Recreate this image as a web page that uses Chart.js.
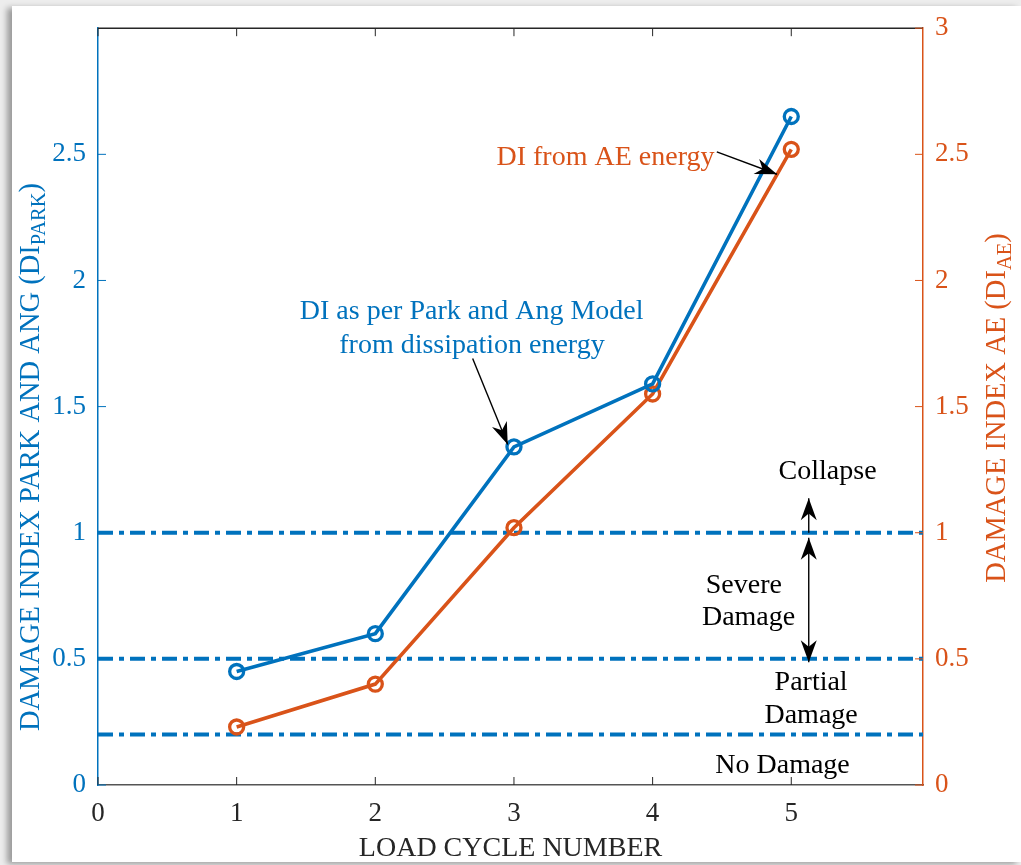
<!DOCTYPE html>
<html>
<head>
<meta charset="utf-8">
<script src="https://cdn.jsdelivr.net/npm/chart.js@4.4.1/dist/chart.umd.min.js"></script>
<style>
  html, body { margin: 0; padding: 0; width: 1021px; height: 865px; overflow: hidden; background: #ededed; }
  #card { position: absolute; left: 12px; top: 6px; width: 1009px; height: 856px; background: #ffffff;
          box-shadow: -5px 2px 6px rgba(0, 0, 0, 0.35); }
  #wrap { position: absolute; left: 0; top: 0; width: 1021px; height: 865px; }
</style>
</head>
<body>
<div id="card"></div>
<div id="wrap"><canvas id="chart" width="1021" height="865"></canvas></div>
<script>
// Load cycles and the two damage indices
const cycles = [1, 2, 3, 4, 5];
const diPark = [0.45, 0.60, 1.34, 1.59, 2.65];
const diAE = [0.23, 0.40, 1.02, 1.55, 2.52];

// Damage state limits (dash-dot lines)
const limitLevels = [1, 0.5, 0.2];

// Axis ranges and tick labels
const xRange = [0, 5.95];
const yRange = [0, 3];
const xTicks = [0, 1, 2, 3, 4, 5];
const leftTicks = [0, 0.5, 1, 1.5, 2, 2.5];
const rightTicks = [0, 0.5, 1, 1.5, 2, 2.5, 3];

const BLUE = '#0072BD';
const ORANGE = '#D95319';
const INK = '#262626';
const SERIF = "'Liberation Serif', 'Times New Roman', serif";

// Text notes in data units (x, y on the 0-3 scale), baseline anchored
const notes = [
  { text: 'DI from AE energy', x: 3.66, y: 2.457, color: ORANGE },
  { text: 'DI as per Park and Ang Model', x: 2.695, y: 1.849, color: BLUE },
  { text: 'from dissipation energy', x: 2.697, y: 1.711, color: BLUE },
  { text: 'Collapse', x: 5.262, y: 1.212, color: '#000' },
  { text: 'Severe', x: 4.658, y: 0.763, color: '#000' },
  { text: 'Damage', x: 4.692, y: 0.636, color: '#000' },
  { text: 'Partial', x: 5.143, y: 0.375, color: '#000' },
  { text: 'Damage', x: 5.143, y: 0.245, color: '#000' },
  { text: 'No Damage', x: 4.937, y: 0.047, color: '#000' }
];

// Pointer arrows in data units
const arrows = [
  { from: [4.463, 2.510], to: [4.897, 2.421], both: false },
  { from: [2.702, 1.691], to: [2.955, 1.350], both: false },
  { from: [5.126, 1.0], to: [5.126, 1.137], both: false },
  { from: [5.126, 0.98], to: [5.126, 0.487], both: true }
];

const toPoints = (xs, ys) => xs.map((x, i) => ({ x: x, y: ys[i] }));

const datasets = [
  {
    label: 'DI Park and Ang',
    data: toPoints(cycles, diPark),
    yAxisID: 'yL',
    borderColor: BLUE,
    borderWidth: 3.6,
    pointRadius: 7,
    pointBorderWidth: 3.3,
    pointBackgroundColor: 'rgba(0,0,0,0)',
    pointBorderColor: BLUE,
    tension: 0
  },
  {
    label: 'DI AE',
    data: toPoints(cycles, diAE),
    yAxisID: 'yR',
    borderColor: ORANGE,
    borderWidth: 3.6,
    pointRadius: 7,
    pointBorderWidth: 3.3,
    pointBackgroundColor: 'rgba(0,0,0,0)',
    pointBorderColor: ORANGE,
    tension: 0
  }
].concat(limitLevels.map(level => ({
  label: 'limit ' + level,
  data: [{ x: xRange[0], y: level }, { x: xRange[1], y: level }],
  yAxisID: 'yL',
  borderColor: BLUE,
  borderWidth: 4,
  borderDash: [15, 6, 5, 6],
  pointRadius: 0,
  tension: 0
})));

function drawArrowHead(ctx, x, y, angle) {
  const L = 22, W = 16;
  ctx.save();
  ctx.translate(x, y);
  ctx.rotate(angle);
  ctx.beginPath();
  ctx.moveTo(0, 0);
  ctx.lineTo(-L, -W / 2);
  ctx.lineTo(-0.7 * L, 0);
  ctx.lineTo(-L, W / 2);
  ctx.closePath();
  ctx.fill();
  ctx.restore();
}

function drawTitle(ctx, cx, cy, parts, color) {
  ctx.save();
  ctx.translate(cx, cy);
  ctx.rotate(-Math.PI / 2);
  ctx.fillStyle = color;
  ctx.textBaseline = 'middle';
  ctx.textAlign = 'left';
  const fonts = parts.map(p => (p.sub ? '20.5px ' : '28.5px ') + SERIF);
  const widths = parts.map((p, i) => { ctx.font = fonts[i]; return ctx.measureText(p.text).width; });
  let x = -widths.reduce((a, b) => a + b, 0) / 2;
  parts.forEach((p, i) => {
    ctx.font = fonts[i];
    ctx.fillText(p.text, x, p.sub ? 8 : 0);
    x += widths[i];
  });
  ctx.restore();
}

const decorations = {
  id: 'decorations',
  afterDatasetsDraw(chart) {
    const { ctx, chartArea: a, scales } = chart;
    const sx = scales.x, sy = scales.yL, sr = scales.yR;
    ctx.save();

    // frame top edge
    ctx.strokeStyle = INK;
    ctx.lineWidth = 1.5;
    ctx.beginPath();
    ctx.moveTo(a.left, a.top);
    ctx.lineTo(a.right, a.top);
    ctx.stroke();

    // inward tick marks
    ctx.lineWidth = 1;
    ctx.strokeStyle = INK;
    xTicks.forEach(v => {
      const px = sx.getPixelForValue(v);
      ctx.beginPath();
      ctx.moveTo(px, a.bottom); ctx.lineTo(px, a.bottom - 8);
      ctx.moveTo(px, a.top); ctx.lineTo(px, a.top + 8);
      ctx.stroke();
    });
    ctx.strokeStyle = BLUE;
    leftTicks.forEach(v => {
      const py = sy.getPixelForValue(v);
      ctx.beginPath(); ctx.moveTo(a.left, py); ctx.lineTo(a.left + 8, py); ctx.stroke();
    });
    ctx.strokeStyle = ORANGE;
    rightTicks.forEach(v => {
      const py = sr.getPixelForValue(v);
      ctx.beginPath(); ctx.moveTo(a.right, py); ctx.lineTo(a.right - 8, py); ctx.stroke();
    });

    // notes
    ctx.font = '28px ' + SERIF;
    ctx.textAlign = 'center';
    ctx.textBaseline = 'alphabetic';
    notes.forEach(n => {
      ctx.fillStyle = n.color;
      ctx.fillText(n.text, sx.getPixelForValue(n.x), sy.getPixelForValue(n.y));
    });

    // arrows
    ctx.strokeStyle = '#000';
    ctx.fillStyle = '#000';
    ctx.lineWidth = 1.4;
    arrows.forEach(ar => {
      const x1 = sx.getPixelForValue(ar.from[0]), y1 = sy.getPixelForValue(ar.from[1]);
      const x2 = sx.getPixelForValue(ar.to[0]), y2 = sy.getPixelForValue(ar.to[1]);
      ctx.beginPath(); ctx.moveTo(x1, y1); ctx.lineTo(x2, y2); ctx.stroke();
      const ang = Math.atan2(y2 - y1, x2 - x1);
      drawArrowHead(ctx, x2, y2, ang);
      if (ar.both) drawArrowHead(ctx, x1, y1, ang + Math.PI);
    });

    // axis titles with subscripts
    drawTitle(ctx, 32, 457, [
      { text: 'DAMAGE INDEX PARK AND ANG (DI' }, { text: 'PARK', sub: true }, { text: ')' }
    ], BLUE);
    drawTitle(ctx, 998, 408, [
      { text: 'DAMAGE INDEX AE (DI' }, { text: 'AE', sub: true }, { text: ')' }
    ], ORANGE);

    ctx.restore();
  }
};

const plainLabel = v => String(v);

new Chart(document.getElementById('chart'), {
  type: 'line',
  data: { datasets: datasets },
  options: {
    responsive: false,
    animation: false,
    devicePixelRatio: 1,
    layout: { padding: { top: 25, left: 0, right: 0, bottom: 0 } },
    plugins: { legend: { display: false }, tooltip: { enabled: false } },
    scales: {
      x: {
        type: 'linear',
        position: 'bottom',
        min: xRange[0],
        max: xRange[1],
        afterBuildTicks: s => { s.ticks = xTicks.map(v => ({ value: v })); },
        afterFit: s => { s.height = 80; },
        grid: { display: false, drawTicks: false },
        border: { display: true, color: '#555555', width: 1.5 },
        ticks: { color: INK, font: { family: SERIF, size: 27 }, padding: 13, maxRotation: 0, callback: plainLabel },
        title: {
          display: true,
          text: 'LOAD CYCLE NUMBER',
          color: INK,
          font: { family: SERIF, size: 28 },
          padding: { top: 0, bottom: 0 }
        }
      },
      yL: {
        type: 'linear',
        position: 'left',
        min: yRange[0],
        max: yRange[1],
        afterBuildTicks: s => { s.ticks = leftTicks.map(v => ({ value: v })); },
        afterFit: s => { s.width = 98; },
        grid: { display: false, drawTicks: false },
        border: { display: true, color: BLUE, width: 1.5 },
        ticks: { color: BLUE, font: { family: SERIF, size: 27 }, padding: 12, callback: plainLabel }
      },
      yR: {
        type: 'linear',
        position: 'right',
        min: yRange[0],
        max: yRange[1],
        afterBuildTicks: s => { s.ticks = rightTicks.map(v => ({ value: v })); },
        afterFit: s => { s.width = 98; },
        grid: { display: false, drawTicks: false },
        border: { display: true, color: ORANGE, width: 1.5 },
        ticks: { color: ORANGE, font: { family: SERIF, size: 27 }, padding: 12, callback: plainLabel }
      }
    }
  },
  plugins: [decorations]
});
</script>
</body>
</html>
